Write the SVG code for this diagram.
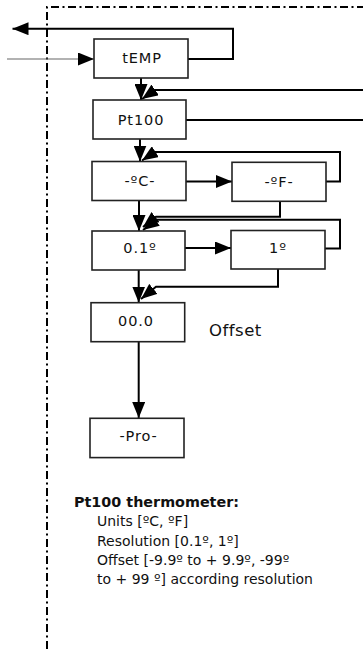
<svg xmlns="http://www.w3.org/2000/svg" width="363" height="649" viewBox="0 0 363 649">
<defs>
<style>
.box{fill:#fff;stroke:#222;stroke-width:1.6}
.lbl{font-family:"DejaVu Sans",sans-serif;font-size:14.5px;letter-spacing:0.9px;fill:#111;text-anchor:middle}
.con{fill:none;stroke:#000;stroke-width:2}
.thin{fill:none;stroke:#666;stroke-width:1.2}
.note{font-family:"DejaVu Sans",sans-serif;font-size:14px;fill:#111}
.border{fill:none;stroke:#000;stroke-width:2;stroke-dasharray:8 3.5 2 3.5}
</style>
<marker id="ah" viewBox="0 0 16 13" refX="16" refY="6.5" markerWidth="16" markerHeight="13" markerUnits="userSpaceOnUse" orient="auto">
<path d="M0,0 L16,6.5 L0,13 z" fill="#000"/>
</marker>
</defs>
<rect width="363" height="649" fill="#fff"/>
<path class="border" d="M47,649 V7 H363"/>
<g id="connectors">
<path class="con" d="M188,59 H233 V28.7 H12.5" marker-end="url(#ah)"/>
<path class="thin" d="M7,59 H94" marker-end="url(#ah)"/>
<path class="con" d="M141,78 V100" marker-end="url(#ah)"/>
<path class="con" d="M363,90 H155 L142,99" marker-end="url(#ah)"/>
<path class="con" d="M186,120 H363"/>
<path class="con" d="M140,139 V161.5" marker-end="url(#ah)"/>
<path class="con" d="M326,181.5 H340 V152 H155 L142,160.5" marker-end="url(#ah)"/>
<path class="con" d="M186,181.5 H232" marker-end="url(#ah)"/>
<path class="con" d="M139,200.5 V231" marker-end="url(#ah)"/>
<path class="con" d="M280,201 V216.7 H156 L143,227" marker-end="url(#ah)"/>
<path class="con" d="M325,248.5 H340 V219.7 H157 L143,230" marker-end="url(#ah)"/>
<path class="con" d="M185,248 H231" marker-end="url(#ah)"/>
<path class="con" d="M138.7,270 V302.5" marker-end="url(#ah)"/>
<path class="con" d="M278,269 V286.7 H156 L141,299" marker-end="url(#ah)"/>
<path class="con" d="M138.7,341.7 V418" marker-end="url(#ah)"/>
</g>
<g id="tEMP"><rect class="box" x="94" y="39" width="94" height="39"/><text class="lbl" x="142" y="63">tEMP</text></g>
<g id="Pt100"><rect class="box" x="93" y="100" width="93" height="39"/><text class="lbl" x="141" y="124.5">Pt100</text></g>
<g id="degC"><rect class="box" x="92" y="161.5" width="94" height="39"/><text class="lbl" x="140" y="186">-ºC-</text></g>
<g id="degF"><rect class="box" x="232" y="162.3" width="94" height="39"/><text class="lbl" x="279" y="186.5">-ºF-</text></g>
<g id="res01"><rect class="box" x="92" y="231" width="93" height="39"/><text class="lbl" x="140" y="253">0.1º</text></g>
<g id="res1"><rect class="box" x="231" y="230.5" width="94" height="38.5"/><text class="lbl" x="278" y="253">1º</text></g>
<g id="offset"><rect class="box" x="91" y="302.7" width="93.7" height="39"/><text class="lbl" x="136" y="325.5">00.0</text><text font-family="DejaVu Sans, sans-serif" font-size="16.5" letter-spacing="0.5" fill="#111" x="209" y="336">Offset</text></g>
<g id="Pro"><rect class="box" x="90" y="418.3" width="94" height="39.3"/><text class="lbl" x="138.5" y="441">-Pro-</text></g>
<g id="notes">
<text class="note" font-weight="bold" x="74" y="507" textLength="165" lengthAdjust="spacingAndGlyphs">Pt100 thermometer:</text>
<text class="note" x="97" y="526">Units [ºC, ºF]</text>
<text class="note" x="97" y="546">Resolution [0.1º, 1º]</text>
<text class="note" x="97" y="565">Offset [-9.9º to + 9.9º, -99º</text>
<text class="note" x="97" y="584">to + 99 º] according resolution</text>
</g>
</svg>
